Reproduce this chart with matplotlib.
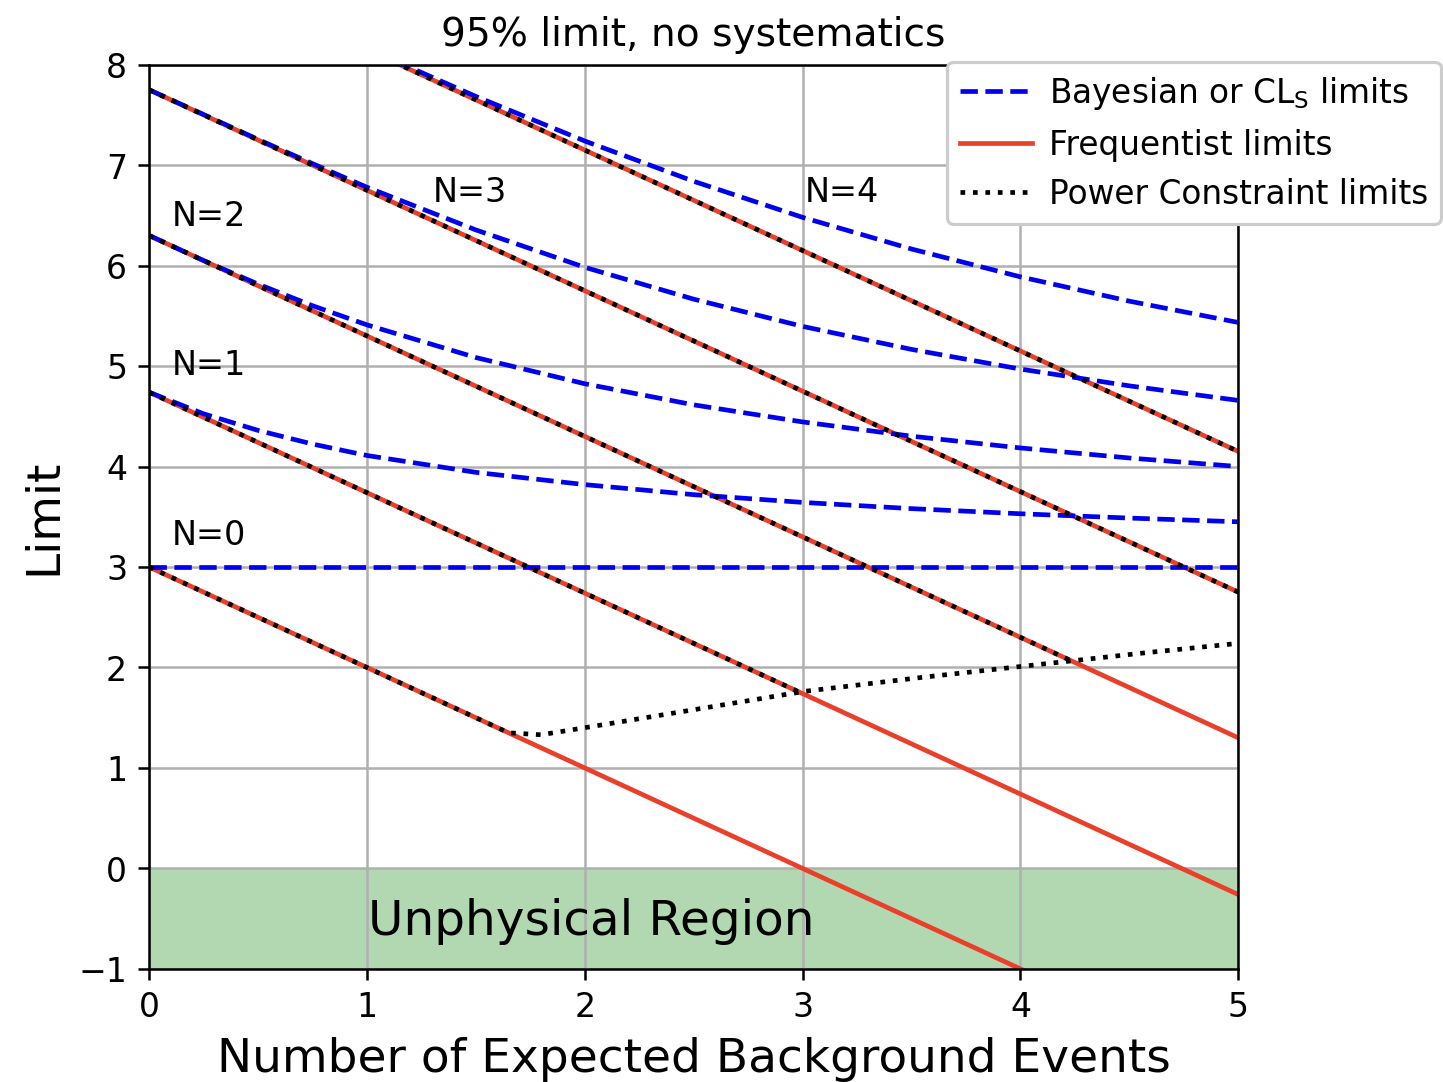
import numpy as np
import matplotlib
matplotlib.use("Agg")
import matplotlib.pyplot as plt

# ---- data ----
n_labels = ["N=0", "N=1", "N=2", "N=3", "N=4"]

# Frequentist limits: straight lines, values at b=0 and b=5
freq_b = [0.0, 5.0]
freq_N0 = [3.00, -2.00]
freq_N1 = [4.74, -0.26]
freq_N2 = [6.30, 1.30]
freq_N3 = [7.75, 2.75]
freq_N4 = [9.15, 4.15]

# Bayesian / CLs limits
bayes_b = [0.0, 0.25, 0.5, 0.75, 1.0, 1.5, 2.0, 2.5, 3.0, 3.5, 4.0, 4.5, 5.0]
bayes_N0 = [3.00, 3.00, 3.00, 3.00, 3.00, 3.00, 3.00, 3.00, 3.00, 3.00, 3.00, 3.00, 3.00]
bayes_N1 = [4.74, 4.525, 4.36, 4.224, 4.11, 3.942, 3.82, 3.72, 3.643, 3.581, 3.53, 3.487, 3.45]
bayes_N2 = [6.30, 6.05, 5.816, 5.601, 5.41, 5.085, 4.824, 4.614, 4.444, 4.302, 4.185, 4.085, 4.00]
bayes_N3 = [7.75, 7.504, 7.256, 7.015, 6.78, 6.355, 5.983, 5.666, 5.395, 5.166, 4.97, 4.803, 4.658]
bayes_N4 = [9.15, 8.903, 8.654, 8.405, 8.16, 7.684, 7.24, 6.839, 6.48, 6.165, 5.888, 5.646, 5.434]

# Power-constraint floor
pcl_b = [1.65, 1.8, 2.0, 2.5, 3.0, 3.5, 4.0, 4.5, 5.0]
pcl_floor = [1.35, 1.33, 1.40, 1.58, 1.76, 1.89, 2.01, 2.13, 2.24]

label_pos_b = [0.105, 0.105, 0.105, 1.30, 3.01]
label_pos_y = [3.32, 5.01, 6.49, 6.73, 6.73]

freqs = [freq_N0, freq_N1, freq_N2, freq_N3, freq_N4]
bayes = [bayes_N0, bayes_N1, bayes_N2, bayes_N3, bayes_N4]

# ---- figure ----
plt.rcParams["font.size"] = 10.6
plt.rcParams["xtick.labelsize"] = 10.6
plt.rcParams["ytick.labelsize"] = 10.6

fig = plt.figure(figsize=(6.4, 4.8), dpi=225.5)
ax = fig.add_axes([0.1033, 0.1045, 0.7547, 0.8354])

ax.axhspan(-1, 0, color="green", alpha=0.3, lw=0, zorder=0)
ax.grid(True, color="#b0b0b0", lw=0.8, zorder=0.5)
ax.set_axisbelow(True)

red = "#e8402a"
bgrid = np.linspace(0, 5, 1001)
floor = np.interp(bgrid, pcl_b, pcl_floor)

for i in range(5):
    fb = np.interp(bgrid, freq_b, freqs[i])
    ax.plot(freq_b, freqs[i], color=red, lw=1.5, zorder=2,
            label="Frequentist limits" if i == 0 else None)
    ax.plot(bayes_b, bayes[i], color="#0000ee", ls=(0, (3.7, 1.6)), lw=1.5, zorder=3,
            label=r"Bayesian or CL$_\mathrm{S}$ limits" if i == 0 else None)
    if i == 0:
        pc = np.maximum(fb, floor)
    else:
        pc = np.where(fb >= floor, fb, np.nan)
    ax.plot(bgrid, pc, color="black", ls=":", lw=1.5, zorder=4,
            label="Power Constraint limits" if i == 0 else None)
    ax.text(label_pos_b[i], label_pos_y[i], n_labels[i], fontsize=10.7,
            ha="left", va="center", zorder=5)

ax.text(1.005, -0.52, "Unphysical Region", fontsize=15.5, ha="left", va="center")

ax.set_xlim(0, 5)
ax.set_ylim(-1, 8)
ax.set_xticks([0, 1, 2, 3, 4, 5])
ax.set_yticks(range(-1, 9))
ax.set_xlabel("Number of Expected Background Events", fontsize=15)
ax.set_ylabel("Limit", fontsize=15)
ax.set_title("95% limit, no systematics", fontsize=12.5)

h, l = ax.get_legend_handles_labels()
order = [l.index(r"Bayesian or CL$_\mathrm{S}$ limits"), l.index("Frequentist limits"),
         l.index("Power Constraint limits")]
ax.legend([h[k] for k in order], [l[k] for k in order], loc="upper left",
          bbox_to_anchor=(0.7328, 1.0033), borderaxespad=0, fontsize=10.45,
          framealpha=1, handlelength=2.2, handletextpad=0.5)

fig.savefig("out.png", dpi=225.5)
